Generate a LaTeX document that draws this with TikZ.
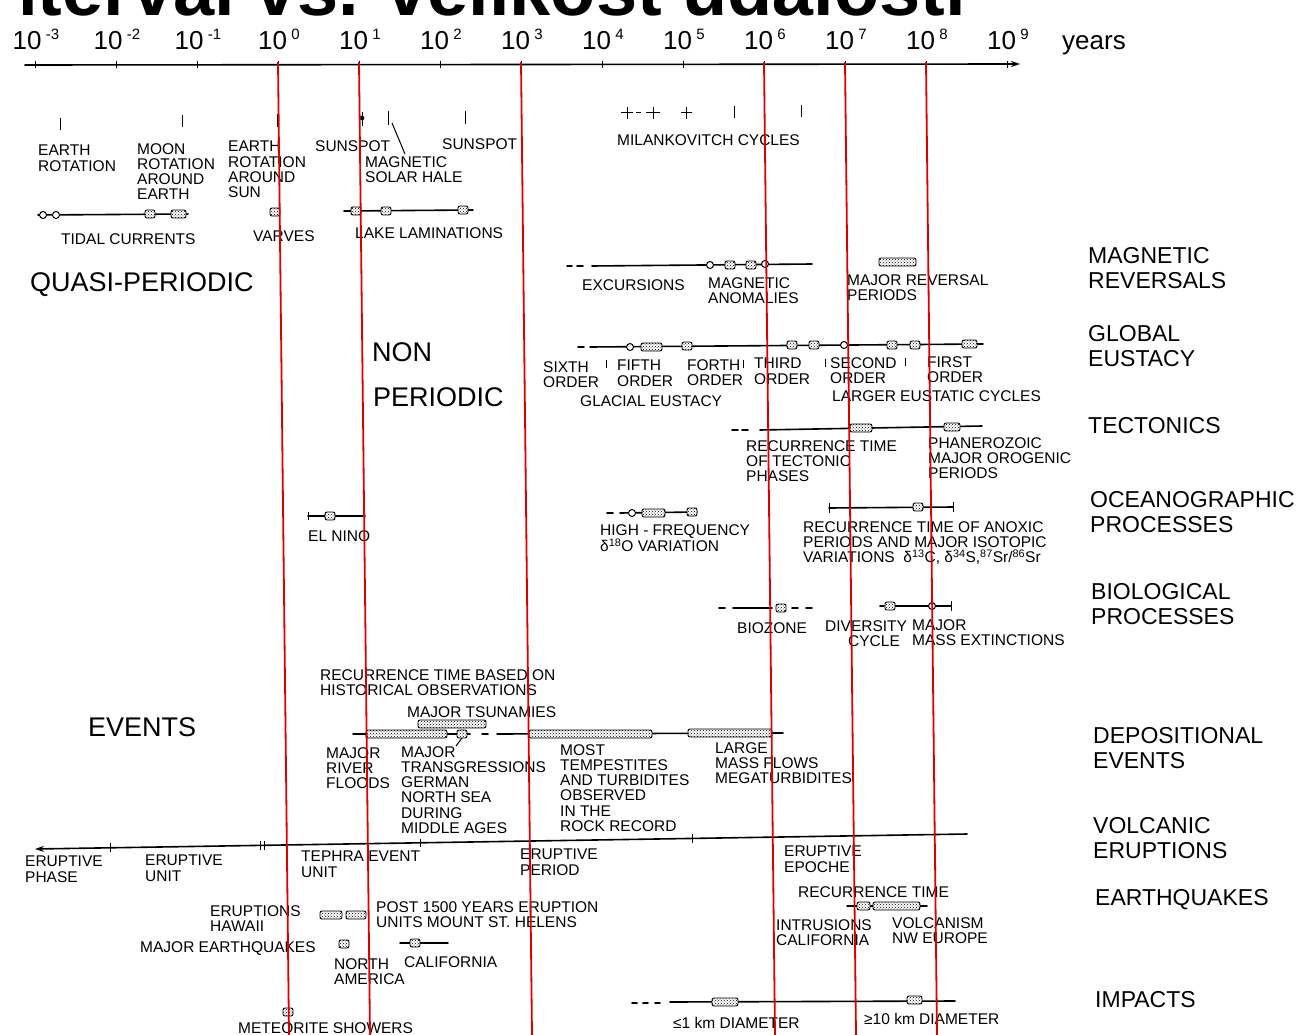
\documentclass[tikz,border=0pt]{standalone}
\usepackage{fontspec}
\setmainfont{Liberation Sans}
\usetikzlibrary{patterns,arrows.meta}
\definecolor{redl}{RGB}{222,0,0}
\newcommand\fS{\fontsize{15.5}{15.3}\selectfont}
\newcommand\fL{\fontsize{23}{24.5}\selectfont}
\newcommand\fB{\fontsize{27}{30}\selectfont}
\newcommand\fA{\fontsize{26}{28}\selectfont}
\newcommand\fT{\fontsize{74}{80}\selectfont\bfseries}
\newcommand\axl[1]{10\,\raisebox{10pt}{\fontsize{15}{15}\selectfont #1}}
\newcommand\dBar[3]{\draw[hb] (#1,#3-4) rectangle (#2,#3+4);}
\newcommand\dBox[2]{\draw[hb] (#1-5,#2-4) rectangle (#1+5,#2+4);}
\newcommand\dCirc[2]{\draw[mk,fill=white] (#1,#2) circle (3.5);}
\newcommand\dTick[3]{\draw[mk] (#1,#2) -- (#1,#3);}
\tikzset{
 sl/.style={font=\fS, align=left, anchor=north west, inner sep=0pt},
 ll/.style={font=\fL, align=left, anchor=north west, inner sep=0pt},
 bl/.style={font=\fB, anchor=north west, inner sep=0pt},
 ln/.style={line width=1.6pt, line cap=round},
 mk/.style={line width=1pt},
 hb/.style={preaction={fill=white}, pattern=crosshatch dots, draw, line width=0.9pt, rounded corners=2pt},
 rl/.style={draw=redl, line width=1.8pt},
}
\begin{document}
\begin{tikzpicture}[x=1pt,y=-1pt]
\fill[white] (0,0) rectangle (1303,1035);
\useasboundingbox (0,0) rectangle (1303,1035);
% title (cut off at top and left)
\begin{scope}
\clip (23,-60) rectangle (1303,24);
\node[anchor=base west, font=\fT, inner sep=0pt] (title) at (-28,16) {Interval vs. velikost událostí};
\end{scope}
% axis
\draw[ln, -{Stealth[length=9pt,width=6pt]}] (25,65) -- (1020,64);
\foreach \k/\s in {-3/{-3},-2/{-2},-1/{-1},0/0,1/1,2/2,3/3,4/4,5/5,6/6,7/7,8/8,9/9}{
  \draw[mk] ({35+81*(\k+3)},61) -- ({35+81*(\k+3)},68);
  \node[anchor=base, font=\fA, inner sep=0pt] (ax\k) at ({35+81*(\k+3)+1},50) {\axl{\s}};
}
\node[anchor=base west, font=\fA, inner sep=0pt] (years) at (1062,50) {years};

% ---------- quasi-periodic ----------
\dTick{60}{118}{130}
\dTick{182}{115}{127}
\dTick{277}{114}{127}
\dTick{362}{112}{126}
\fill (362,118) circle (2.3);
\dTick{388}{111}{125}
\draw[mk] (392,123) -- (405,154);
\dTick{465}{111}{124}
\draw[mk] (621,113)--(633,113); \dTick{627}{107}{119}
\draw[mk] (636,113)--(641,113);
\draw[mk] (646,113)--(660,113); \dTick{653}{107}{119}
\draw[mk] (681,113)--(692,113); \dTick{686}{107}{119}
\dTick{734}{106}{118}
\dTick{801}{105}{117}

\node[sl] (t1) at (38,145) {EARTH\\ROTATION};
\node[sl] (t2) at (137,143) {MOON\\ROTATION\\AROUND\\EARTH};
\node[sl] (t3) at (228,141) {EARTH\\ROTATION\\AROUND\\SUN};
\node[sl] (t4) at (315,140) {SUNSPOT};
\node[sl] (t5) at (365,156) {MAGNETIC\\SOLAR HALE};
\node[sl] (t6) at (442,138) {SUNSPOT};
\node[sl] (t7) at (617,134) {MILANKOVITCH CYCLES};

\draw[ln] (38,215) -- (188,214);
\dCirc{43}{215} \dCirc{56}{215}
\dBox{150}{214}
\dBar{171}{186}{214}
\dBox{275}{212}
\draw[ln] (344,211) -- (473,210);
\dBox{356}{211} \dBox{386}{211} \dBox{463}{210}
\node[sl] (t8) at (61,233) {TIDAL CURRENTS};
\node[sl] (t9) at (253,230) {VARVES};
\node[sl] (t10) at (355,227) {LAKE LAMINATIONS};

\node[bl] (qp) at (30,272) {QUASI-PERIODIC};
\node[bl] (non) at (372,342) {NON};
\node[bl] (per) at (373,387) {PERIODIC};
\node[bl] (ev) at (88,717) {EVENTS};

% ---------- magnetic reversals ----------
\draw[ln] (567,266)--(572,266); \draw[ln] (577,266)--(583,266);
\draw[ln] (592,266)--(812,264);
\dCirc{710}{265} \dBox{730}{265} \dBox{751}{265} \dCirc{765}{264}
\dBar{879}{916}{262}
\node[sl] (t11) at (582,279) {EXCURSIONS};
\node[sl] (t12) at (708,277) {MAGNETIC\\ANOMALIES};
\node[sl] (t13) at (847,274) {MAJOR REVERSAL\\PERIODS};

% ---------- global eustacy ----------
\draw[ln] (578,347)--(584,347);
\draw[ln] (590,347)--(983,344);
\dCirc{630}{347} \dBar{641}{662}{347} \dBox{687}{346} \dBox{792}{345} \dBox{814}{345}
\dCirc{844}{345} \dBox{892}{345} \dBox{915}{345} \dBar{962}{977}{344}
\dTick{606}{360}{368} \dTick{743}{360}{368} \dTick{825}{359}{367} \dTick{905}{358}{366}
\node[sl] (t14) at (543,361) {SIXTH\\ORDER};
\node[sl] (t15) at (617,360) {FIFTH\\ORDER};
\node[sl] (t16) at (687,359) {FORTH\\ORDER};
\node[sl] (t17) at (754,358) {THIRD\\ORDER};
\node[sl] (t18) at (830,357) {SECOND\\ORDER};
\node[sl] (t19) at (927,356) {FIRST\\ORDER};
\node[sl] (t20) at (580,395) {GLACIAL EUSTACY};
\node[sl] (t21) at (832,390) {LARGER EUSTATIC CYCLES};

% ---------- tectonics ----------
\draw[ln] (732,430)--(738,430); \draw[ln] (742,430)--(748,430);
\draw[ln] (760,430)--(982,426);
\dBar{850}{872}{428} \dBar{944}{960}{427}
\node[sl] (t22) at (746,440) {RECURRENCE TIME\\OF TECTONIC\\PHASES};
\node[sl] (t23) at (928,437) {PHANEROZOIC\\MAJOR OROGENIC\\PERIODS};

% ---------- oceanographic ----------
\draw[ln] (607,513)--(613,513);
\draw[ln] (620,513)--(697,512);
\dCirc{632}{513} \dBar{642}{665}{513} \dBox{692}{512}
\draw[ln] (308,516)--(365,516); \dTick{308}{512}{520} \dBox{330}{516}
\draw[ln] (829,508)--(953,507); \dTick{829}{503}{513} \dTick{953}{502}{512} \dBox{918}{507}
\node[sl] (t24) at (600,524) {HIGH - FREQUENCY\\δ\textsuperscript{18}O VARIATION};
\node[sl] (t25) at (308,530) {EL NINO};
\node[sl] (t26) at (803,521) {RECURRENCE TIME OF ANOXIC\\PERIODS AND MAJOR ISOTOPIC\\VARIATIONS\ \ δ\textsuperscript{13}C, δ\textsuperscript{34}S,\textsuperscript{87}Sr/\textsuperscript{86}Sr};

% ---------- biological ----------
\draw[ln] (719,608)--(725,608);
\draw[ln] (733,608)--(772,608);
\dBox{781}{608}
\draw[ln] (792,608)--(798,608); \draw[ln] (806,608)--(812,608);
\draw[ln] (880,606)--(884,606);
\draw[ln] (895,606)--(951,606); \dTick{951}{601}{611}
\dBox{890}{606} \dCirc{932}{606}
\node[sl] (t27) at (737,622) {BIOZONE};
\node[sl] (t28) at (825,620) {DIVERSITY};
\node[sl] (t28b) at (848,635) {CYCLE};
\node[sl] (t29) at (912,619) {MAJOR\\MASS EXTINCTIONS};

% ---------- depositional ----------
\draw[ln] (353,734)--(470,734);
\dBar{366}{447}{734}
\dBox{462}{734}
\draw[mk] (462,738)--(456,746);
\dBar{418}{486}{724}
\draw[ln] (482,734)--(488,734);
\draw[ln] (497,734)--(783,733);
\dBar{529}{652}{734} \dBar{688}{772}{733}
\node[sl] (t30) at (320,669) {RECURRENCE TIME BASED ON\\HISTORICAL OBSERVATIONS};
\node[sl] (t31) at (407,706) {MAJOR TSUNAMIES};
\node[sl] (t32) at (326,747) {MAJOR\\RIVER\\FLOODS};
\node[sl] (t33) at (401,746) {MAJOR\\TRANSGRESSIONS\\GERMAN\\NORTH SEA\\DURING\\MIDDLE AGES};
\node[sl] (t34) at (560,744) {MOST\\TEMPESTITES\\AND TURBIDITES\\OBSERVED\\IN THE\\ROCK RECORD};
\node[sl] (t35) at (715,742) {LARGE\\MASS FLOWS\\MEGATURBIDITES};

% ---------- volcanic ----------
\draw[ln, -{Stealth[length=9pt,width=6pt]}] (967,834) -- (35,849);
\dTick{110}{843}{852} \dTick{260}{841}{850} \dTick{264}{841}{850} \dTick{420}{839}{847} \dTick{692}{834}{843}
\node[sl] (t36) at (25,856) {ERUPTIVE\\PHASE};
\node[sl] (t37) at (145,855) {ERUPTIVE\\UNIT};
\node[sl] (t38) at (301,851) {TEPHRA EVENT\\UNIT};
\node[sl] (t39) at (520,849) {ERUPTIVE\\PERIOD};
\node[sl] (t40) at (784,846) {ERUPTIVE\\EPOCHE};

% ---------- earthquakes ----------
\draw[ln] (847,906)--(927,906); \dBar{857}{870}{906} \dBar{873}{920}{906}
\node[sl] (t41) at (798,886) {RECURRENCE TIME};
\node[sl] (t42) at (776,919) {INTRUSIONS\\CALIFORNIA};
\node[sl] (t43) at (892,917) {VOLCANISM\\NW EUROPE};
\dBar{320}{342}{915} \dBar{346}{366}{915}
\node[sl] (t44) at (210,905) {ERUPTIONS\\HAWAII};
\node[sl] (t45) at (376,901) {POST 1500 YEARS ERUPTION\\UNITS MOUNT ST. HELENS};
\dBox{344}{944}
\draw[ln] (400,943)--(448,943); \dBox{415}{943}
\node[sl] (t46) at (140,941) {MAJOR EARTHQUAKES};
\node[sl] (t47) at (334,958) {NORTH\\AMERICA};
\node[sl] (t48) at (404,956) {CALIFORNIA};

% ---------- impacts ----------
\draw[ln] (632,1003)--(637,1003); \draw[ln] (643,1003)--(648,1003); \draw[ln] (655,1003)--(660,1003);
\draw[ln] (670,1002)--(955,1001);
\dBar{712}{738}{1002} \dBar{907}{922}{1000}
\node[sl] (t49) at (673,1017) {≤1 km DIAMETER};
\node[sl] (t50) at (864,1013) {≥10 km DIAMETER};
\dBox{288}{1012}
\node[sl] (t51) at (238,1022) {METEORITE SHOWERS};

% ---------- category labels ----------
\node[ll] (c1) at (1088,247.5) {MAGNETIC\\REVERSALS};
\node[ll] (c2) at (1088,325.5) {GLOBAL\\EUSTACY};
\node[ll] (c3) at (1088,417.5) {TECTONICS};
\node[ll] (c4) at (1090,491.5) {OCEANOGRAPHIC\\PROCESSES};
\node[ll] (c5) at (1091,583.5) {BIOLOGICAL\\PROCESSES};
\node[ll] (c6) at (1093,727.5) {DEPOSITIONAL\\EVENTS};
\node[ll] (c7) at (1093,817.5) {VOLCANIC\\ERUPTIONS};
\node[ll] (c8) at (1095,889.5) {EARTHQUAKES};
\node[ll] (c9) at (1095,991.5) {IMPACTS};

% ---------- red lines ----------
\foreach \k in {0,1,3,6,7,8}{
  \draw[rl] ({35+81*(\k+3)},62) -- ({35+81*(\k+3)+11},1035);
}
\end{tikzpicture}
\end{document}
